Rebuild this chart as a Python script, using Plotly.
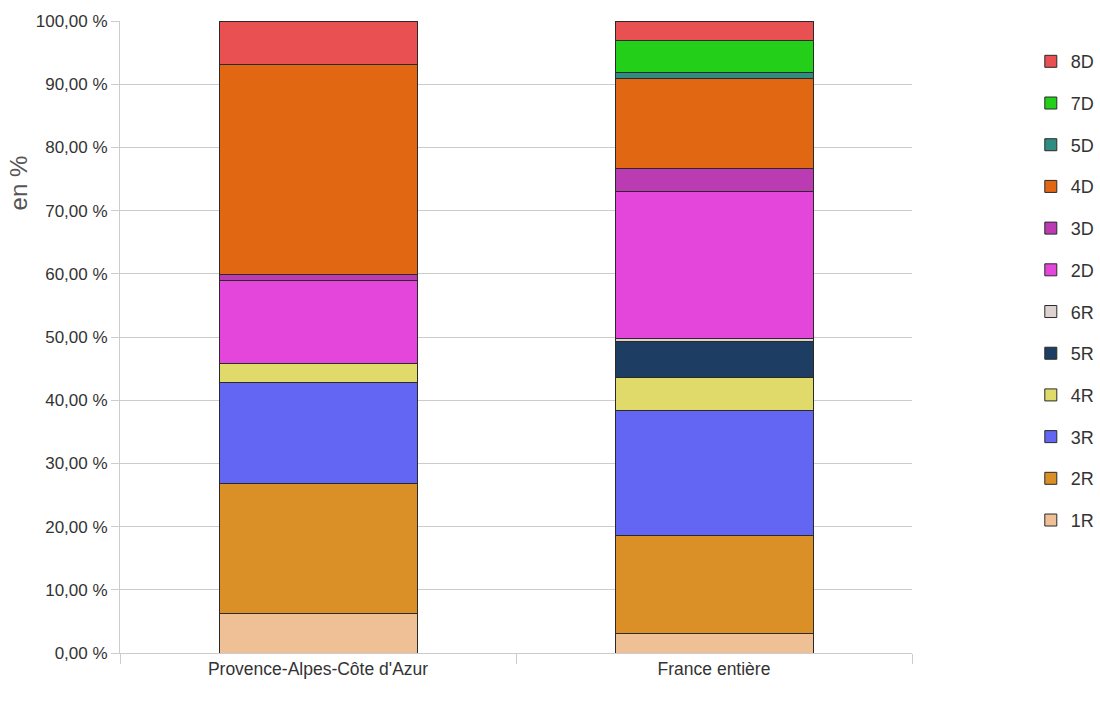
import plotly.graph_objects as go

categories = ["Provence-Alpes-Côte d'Azur", "France entière"]
series_names = ["1R", "2R", "3R", "4R", "5R", "6R", "2D", "3D", "4D", "5D", "7D", "8D"]
v_1R = [6.30, 3.10]
v_2R = [20.55, 15.55]
v_3R = [15.95, 19.70]
v_4R = [3.00, 5.25]
v_5R = [0.00, 5.65]
v_6R = [0.00, 0.55]
v_2D = [13.10, 23.30]
v_3D = [1.00, 3.60]
v_4D = [33.15, 14.20]
v_5D = [0.10, 0.95]
v_7D = [0.00, 5.05]
v_8D = [6.85, 3.10]
values = [v_1R, v_2R, v_3R, v_4R, v_5R, v_6R, v_2D, v_3D, v_4D, v_5D, v_7D, v_8D]
colors = ["#EFBF96", "#DB9027", "#6266F2", "#E0DA6A", "#1E3D63", "#DDD2CF",
          "#E445DB", "#BB3BB2", "#E26713", "#2E8C80", "#24CF1A", "#E85051"]
y_ticks = [0, 10, 20, 30, 40, 50, 60, 70, 80, 90, 100]
y_tick_labels = ["0,00 %", "10,00 %", "20,00 %", "30,00 %", "40,00 %", "50,00 %",
                 "60,00 %", "70,00 %", "80,00 %", "90,00 %", "100,00 %"]

font_main = "Liberation Sans Narrow, Liberation Sans, Arial"

fig = go.Figure()
n = len(series_names)
for i, (name, vals, col) in enumerate(zip(series_names, values, colors)):
    fig.add_trace(go.Bar(
        x=categories, y=vals, name=name, legendgroup=name, legendrank=n - i,
        marker=dict(color=col, line=dict(color="#2a2a2a", width=1)),
        width=0.5,
    ))

fig.update_layout(
    barmode="stack",
    width=1100, height=706,
    margin=dict(l=120, r=188, t=21, b=53, autoexpand=False),
    paper_bgcolor="white", plot_bgcolor="white",
    font=dict(family=font_main, size=17, color="#333333"),
    legend=dict(
        traceorder="grouped", tracegroupgap=15.3,
        x=1.15, xanchor="left", y=0.965, yanchor="top",
        font=dict(family=font_main, size=18, color="#333333"),
        itemwidth=30,
    ),
    showlegend=True,
    annotations=[dict(
        text="en %", textangle=-90, xref="paper", yref="paper",
        x=-0.128, y=0.744, xanchor="center", yanchor="middle", showarrow=False,
        font=dict(family="Liberation Sans, Arial", size=24, color="#555555"),
    )],
)
fig.update_yaxes(
    range=[0, 100], tickvals=y_ticks, ticktext=y_tick_labels,
    showgrid=True, gridcolor="#cccccc", gridwidth=1,
    ticks="outside", ticklen=8, tickcolor="#cccccc",
    showline=True, linecolor="#cccccc", zeroline=False,
    tickfont=dict(family=font_main, size=17, color="#333333"),
)
fig.update_xaxes(
    tickson="boundaries", ticks="outside", ticklen=10, tickcolor="#cccccc",
    showline=True, linecolor="#cccccc",
    tickfont=dict(family=font_main, size=17.5, color="#333333"),
)

fig.write_html("out.html")
